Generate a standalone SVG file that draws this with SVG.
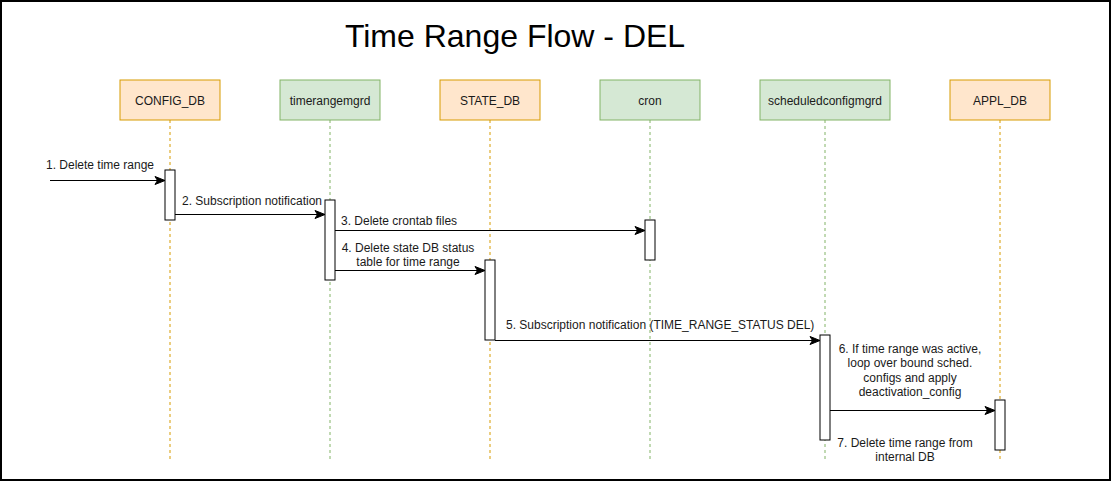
<svg xmlns="http://www.w3.org/2000/svg" width="1111" height="482" viewBox="0 0 1111 482">
<defs>
<style>
text{font-family:"Liberation Sans",Arial,Helvetica,sans-serif;font-size:12px;fill:#1a1a1a;}
.t{text-anchor:middle;}
.or{fill:#ffe6cc;stroke:#d79b00;stroke-width:1;}
.gr{fill:#d5e8d4;stroke:#82b366;stroke-width:1;}
.lo{stroke:#d79b00;stroke-width:1;stroke-dasharray:3 3;fill:none;}
.lg{stroke:#82b366;stroke-width:1;stroke-dasharray:3 3;fill:none;}
.act{fill:#ffffff;stroke:#000000;stroke-width:1;}
.msg{stroke:#000000;stroke-width:1;fill:none;marker-end:url(#ah);}
</style>
<marker id="ah" markerUnits="userSpaceOnUse" markerWidth="12" markerHeight="10" viewBox="-11 -5 12 10" refX="0" refY="0" orient="auto">
<path d="M0,0 L-10,-4 L-7.5,0 L-10,4 Z" fill="#000000" stroke="#000000" stroke-width="1"/>
</marker>
</defs>
<rect x="0" y="0" width="1111" height="482" fill="#ffffff"/>
<rect x="1" y="1" width="1109" height="479" fill="none" stroke="#000000" stroke-width="2"/>
<text x="515" y="47" class="t" style="font-size:32px;fill:#000000">Time Range Flow - DEL</text>

<g id="config_db">
<line x1="170" y1="120" x2="170" y2="460" class="lo"/>
<rect x="120" y="80" width="100" height="40" class="or"/>
<text x="170" y="104.5" class="t">CONFIG_DB</text>
<rect x="165" y="170" width="10" height="50" class="act"/>
</g>
<g id="timerangemgrd">
<line x1="330" y1="120" x2="330" y2="460" class="lg"/>
<rect x="280" y="80" width="100" height="40" class="gr"/>
<text x="330" y="104.5" class="t">timerangemgrd</text>
<rect x="325" y="200" width="10" height="80" class="act"/>
</g>
<g id="state_db">
<line x1="490" y1="120" x2="490" y2="460" class="lo"/>
<rect x="440" y="80" width="100" height="40" class="or"/>
<text x="490" y="104.5" class="t">STATE_DB</text>
<rect x="485" y="260" width="10" height="80" class="act"/>
</g>
<g id="cron">
<line x1="650" y1="120" x2="650" y2="460" class="lg"/>
<rect x="600" y="80" width="100" height="40" class="gr"/>
<text x="650" y="104.5" class="t">cron</text>
<rect x="645" y="220" width="10" height="40" class="act"/>
</g>
<g id="scheduledconfigmgrd">
<line x1="825" y1="120" x2="825" y2="460" class="lg"/>
<rect x="760" y="80" width="130" height="40" class="gr"/>
<text x="825" y="104.5" class="t">scheduledconfigmgrd</text>
<rect x="820" y="335" width="10" height="105" class="act"/>
</g>
<g id="appl_db">
<line x1="1000" y1="120" x2="1000" y2="460" class="lo"/>
<rect x="950" y="80" width="100" height="40" class="or"/>
<text x="1000" y="104.5" class="t">APPL_DB</text>
<rect x="995" y="400" width="10" height="50" class="act"/>
</g>

<g id="connectors">
<line x1="50" y1="180.5" x2="165" y2="180.5" class="msg"/>
<text x="100" y="169" class="t">1. Delete time range</text>
<line x1="175" y1="214.5" x2="325" y2="214.5" class="msg"/>
<text x="252" y="205" class="t">2. Subscription notification</text>
<line x1="335" y1="230.5" x2="645" y2="230.5" class="msg"/>
<text x="341" y="225">3. Delete crontab files</text>
<line x1="335" y1="270.5" x2="485" y2="270.5" class="msg"/>
<text x="408" y="251.5" class="t">4. Delete state DB status</text>
<text x="408" y="266" class="t">table for time range</text>
<line x1="495" y1="340.5" x2="820" y2="340.5" class="msg"/>
<text x="506" y="329">5. Subscription notification (TIME_RANGE_STATUS DEL)</text>
<line x1="830" y1="410.5" x2="995" y2="410.5" class="msg"/>
<text x="910" y="353" class="t">6. If time range was active,</text>
<text x="910" y="367.4" class="t">loop over bound sched.</text>
<text x="910" y="381.8" class="t">configs and apply</text>
<text x="910" y="396.2" class="t">deactivation_config</text>
<text x="905" y="446.5" class="t">7. Delete time range from</text>
<text x="905" y="461" class="t">internal DB</text>
</g>
</svg>
